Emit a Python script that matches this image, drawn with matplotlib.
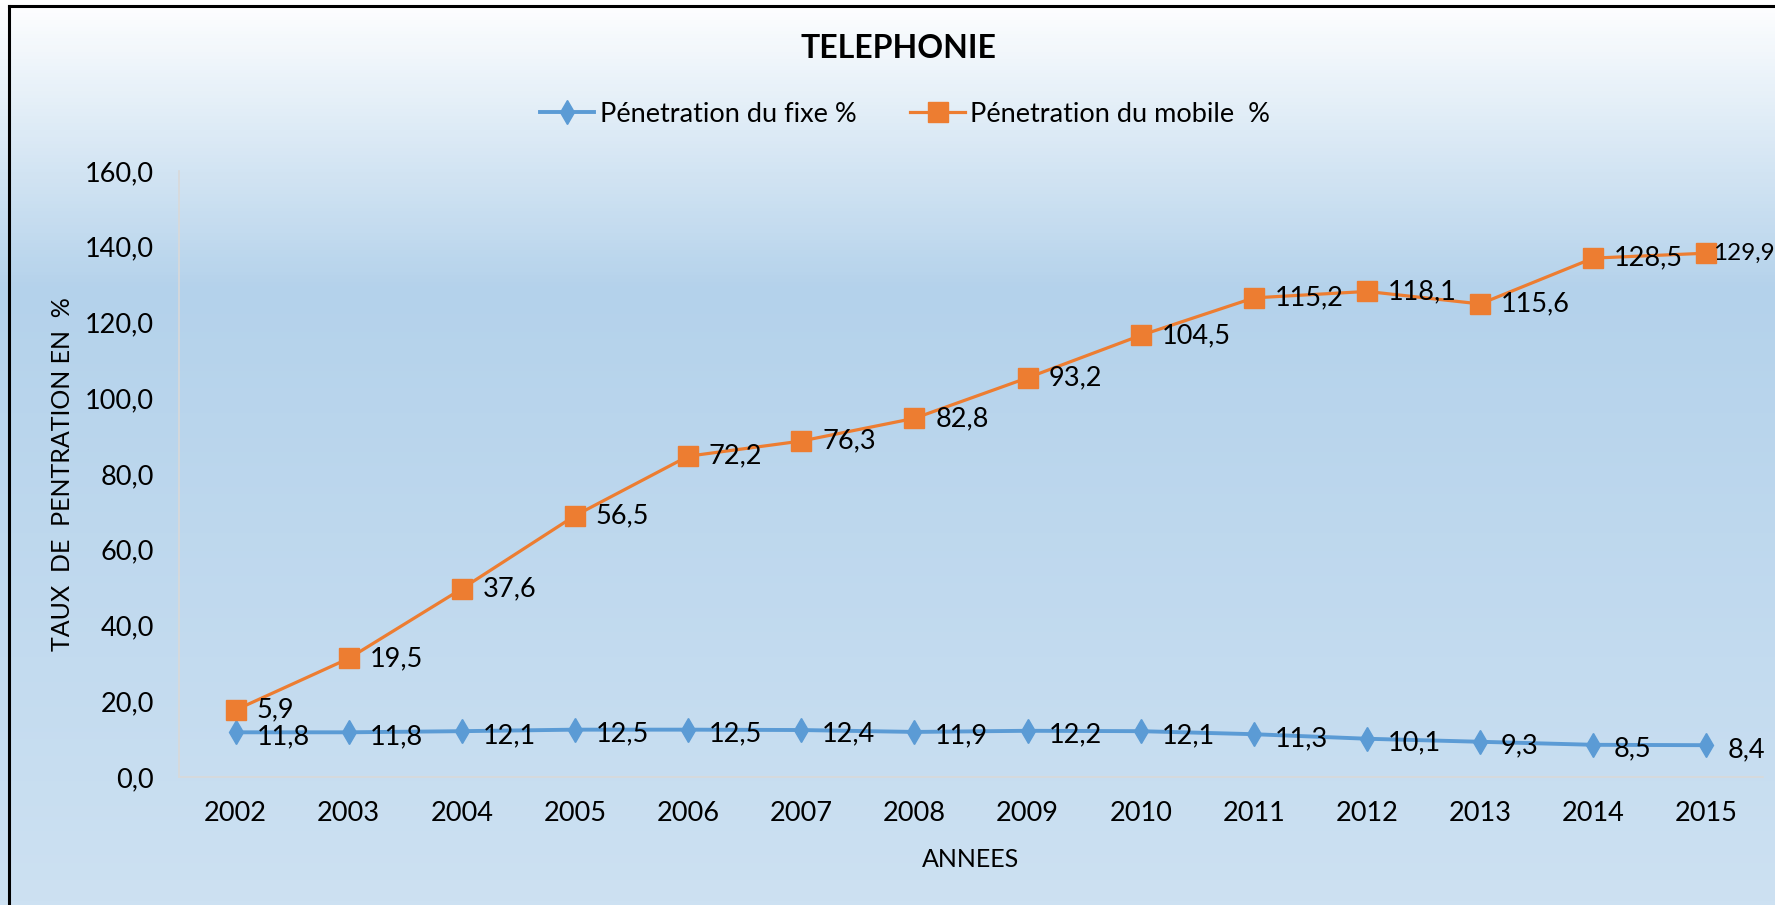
import matplotlib
matplotlib.use("Agg")
import matplotlib.pyplot as plt
import numpy as np
from matplotlib.colors import LinearSegmentedColormap
from matplotlib.lines import Line2D

years = ["2002", "2003", "2004", "2005", "2006", "2007", "2008",
         "2009", "2010", "2011", "2012", "2013", "2014", "2015"]
fixe = [11.8, 11.8, 12.1, 12.5, 12.5, 12.4, 11.9, 12.2, 12.1, 11.3, 10.1, 9.3, 8.5, 8.4]
mobile = [5.9, 19.5, 37.6, 56.5, 72.2, 76.3, 82.8, 93.2, 104.5, 115.2, 118.1, 115.6, 128.5, 129.9]
yticks = [0, 20, 40, 60, 80, 100, 120, 140, 160]

BLUE = "#5B9BD5"
ORANGE = "#ED7D31"
FONT = "Lato"
FS = 19.5

plt.rcParams["font.family"] = [FONT, "DejaVu Sans"]

W, H = 1775, 905
fig = plt.figure(figsize=(W / 100, H / 100), dpi=100)

# fond en dégradé (blanc -> bleu -> bleu clair)
bg = fig.add_axes([0, 0, 1, 1], zorder=-10)
cmap = LinearSegmentedColormap.from_list(
    "bg", [(0.0, "#ffffff"), (0.32, "#b4d2eb"), (1.0, "#cde1f2")])
grad = np.linspace(0, 1, 256).reshape(-1, 1)
bg.imshow(grad, aspect="auto", cmap=cmap, extent=[0, 1, 0, 1], origin="upper")
bg.plot([9 / W, 9 / W], [0, 1 - 6 / H], color="black", lw=2.2)
bg.plot([9 / W, 1], [1 - 6 / H, 1 - 6 / H], color="black", lw=2.2)
bg.set_xlim(0, 1)
bg.set_ylim(0, 1)
bg.axis("off")

ax = fig.add_axes([179 / W, 1 - 777 / H, (1763 - 179) / W, (777 - 171) / H])
ax.patch.set_alpha(0)

x = np.arange(len(years))
stacked = [f + m for f, m in zip(fixe, mobile)]  # courbes empilées (comme Excel)

ax.plot(x, fixe, color=BLUE, lw=2.8, marker="d", ms=12, mec=BLUE, mfc=BLUE, zorder=3)
ax.plot(x, stacked, color=ORANGE, lw=2.3, marker="s", ms=14, mec=ORANGE, mfc=ORANGE, zorder=3)

def fmt(v):
    return f"{v:.1f}".replace(".", ",")

for xi, f in zip(x, fixe):
    ax.annotate(fmt(f), (xi, f), xytext=(15, -3), textcoords="offset points",
                va="center", ha="left", fontsize=FS, zorder=4)
last = len(years) - 1
for xi, s, m in zip(x, stacked, mobile):
    # dernier libellé collé au marqueur et un peu réduit pour tenir dans le cadre
    dx, fs = (5, 17.5) if xi == last else (15, FS)
    ax.annotate(fmt(m), (xi, s), xytext=(dx, 0), textcoords="offset points",
                va="center", ha="left", fontsize=fs, zorder=4, annotation_clip=False)

ax.set_xlim(-0.5, len(years) - 0.5)
ax.set_ylim(0, 160)
ax.set_yticks(yticks)
ax.set_yticklabels([fmt(v) for v in yticks], fontsize=FS)
ax.set_xticks(x)
ax.set_xticklabels(years, fontsize=FS)
ax.tick_params(axis="both", length=0)
ax.tick_params(axis="x", pad=17)
ax.tick_params(axis="y", pad=18)
for side in ("top", "right"):
    ax.spines[side].set_visible(False)
for side in ("left", "bottom"):
    ax.spines[side].set_color("#d9d9d9")
    ax.spines[side].set_linewidth(1.2)

ax.set_ylabel("TAUX  DE  PENTRATION EN  %", fontsize=18)
ax.yaxis.set_label_coords(-0.066, 0.5)
ax.set_xlabel("ANNEES", fontsize=18)
ax.xaxis.set_label_coords(0.5, -0.117)

fig.text(898 / W, 1 - 49 / H, "TELEPHONIE", ha="center", va="center",
         fontsize=23, fontweight="bold")

handles = [
    Line2D([], [], color=BLUE, lw=2.8, marker="d", ms=12, mfc=BLUE, mec=BLUE),
    Line2D([], [], color=ORANGE, lw=2.3, marker="s", ms=14, mfc=ORANGE, mec=ORANGE),
]
fig.legend(handles, ["Pénetration du fixe %", "Pénetration du mobile  %"],
           loc="center", bbox_to_anchor=(905 / W, 1 - 114 / H), ncol=2,
           frameon=False, fontsize=FS, handlelength=2.0, handletextpad=0.2,
           columnspacing=2.0)

fig.savefig("out.png", dpi=100)
